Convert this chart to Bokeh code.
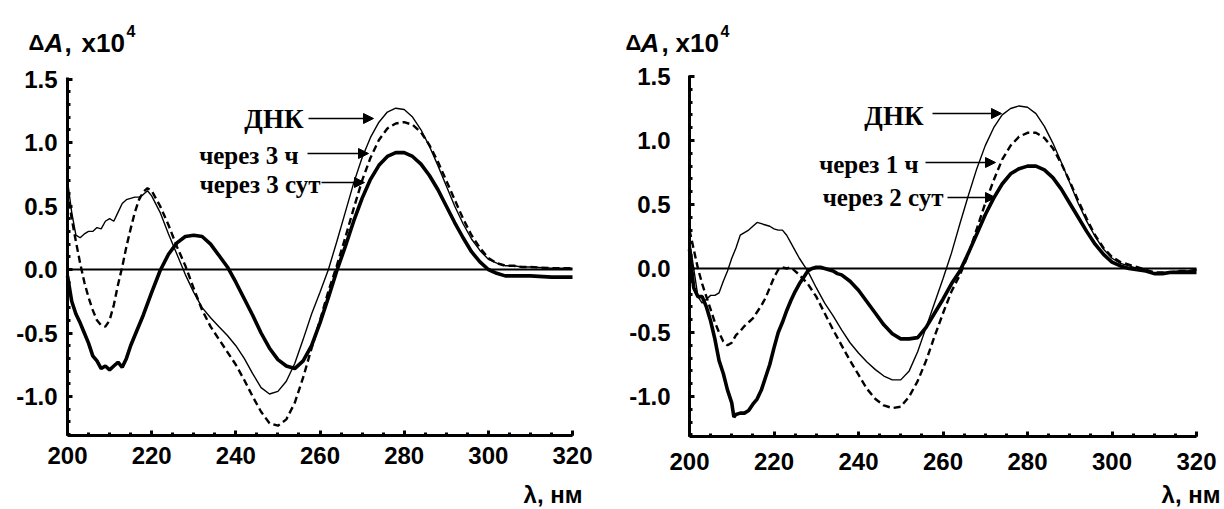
from bokeh.plotting import figure
from bokeh.layouts import row
from bokeh.models import (Range1d, SingleIntervalTicker, PrintfTickFormatter,
                          Arrow, NormalHead, Label)
from bokeh.embed import file_html
from bokeh.resources import INLINE

# ---------------- data (left panel) ----------------
L_dna_x = [200, 201, 202, 203, 204, 205, 206, 207, 208, 209, 210, 211, 212, 213, 214, 215, 216, 217, 218, 219,
           220, 222, 224, 226, 228, 230, 232, 234, 236, 238, 240, 242, 244, 246, 248, 250, 252, 254, 256, 258,
           260, 262, 264, 266, 268, 270, 272, 274, 276, 278, 280, 282, 284, 286, 288, 290, 292, 294, 296, 298,
           300, 302, 304, 306, 308, 310, 315, 320]
L_dna_y = [0.70, 0.45, 0.27, 0.25, 0.28, 0.30, 0.30, 0.33, 0.32, 0.38, 0.40, 0.38, 0.45, 0.52, 0.55, 0.56, 0.57, 0.57, 0.59, 0.62,
           0.58, 0.45, 0.28, 0.12, -0.04, -0.18, -0.30, -0.38, -0.45, -0.52, -0.60, -0.70, -0.82, -0.93, -0.98, -0.96, -0.88, -0.74, -0.55, -0.35,
           -0.18, 0.00, 0.22, 0.45, 0.68, 0.88, 1.04, 1.16, 1.24, 1.27, 1.26, 1.20, 1.10, 0.97, 0.82, 0.66, 0.50, 0.36, 0.24, 0.15,
           0.08, 0.05, 0.03, 0.03, 0.02, 0.02, 0.01, 0.01]

L_3h_x = [200, 201, 202, 203, 204, 205, 206, 207, 208, 209, 210, 211, 212, 213, 214, 215, 216, 217, 218, 219,
          220, 222, 224, 226, 228, 230, 232, 234, 236, 238, 240, 242, 244, 246, 248, 250, 252, 254, 256, 258,
          260, 262, 264, 266, 268, 270, 272, 274, 276, 278, 280, 282, 284, 286, 288, 290, 292, 294, 296, 298,
          300, 302, 304, 306, 308, 310, 315, 320]
L_3h_y = [0.62, 0.40, 0.22, 0.05, -0.10, -0.22, -0.32, -0.40, -0.44, -0.45, -0.40, -0.28, -0.12, 0.02, 0.18, 0.32, 0.45, 0.55, 0.61, 0.64,
          0.62, 0.50, 0.35, 0.18, 0.03, -0.15, -0.32, -0.45, -0.55, -0.65, -0.75, -0.87, -1.00, -1.12, -1.21, -1.23, -1.18, -1.05, -0.85, -0.62,
          -0.40, -0.17, 0.03, 0.25, 0.48, 0.70, 0.88, 1.02, 1.11, 1.15, 1.16, 1.14, 1.08, 0.98, 0.85, 0.70, 0.55, 0.40, 0.27, 0.17,
          0.09, 0.05, 0.03, 0.03, 0.02, 0.02, 0.01, 0.01]

L_3d_x = [200, 201, 202, 203, 204, 205, 206, 207, 208, 209, 210, 211, 212, 213, 214, 215, 216, 218, 220, 222,
          224, 226, 228, 230, 232, 234, 236, 238, 240, 242, 244, 246, 248, 250, 252, 254, 256, 258, 260, 262,
          264, 266, 268, 270, 272, 274, 276, 278, 280, 282, 284, 286, 288, 290, 292, 294, 296, 298, 300, 302,
          304, 306, 310, 315, 320]
L_3d_y = [-0.05, -0.25, -0.35, -0.42, -0.50, -0.58, -0.68, -0.72, -0.78, -0.76, -0.79, -0.76, -0.73, -0.77, -0.70, -0.60, -0.52, -0.36, -0.18, -0.01,
          0.12, 0.21, 0.26, 0.27, 0.26, 0.20, 0.11, 0.02, -0.10, -0.23, -0.36, -0.50, -0.62, -0.71, -0.76, -0.78, -0.72, -0.60, -0.42, -0.22,
          -0.01, 0.18, 0.38, 0.56, 0.71, 0.82, 0.89, 0.92, 0.92, 0.89, 0.83, 0.74, 0.63, 0.50, 0.37, 0.25, 0.14, 0.06, 0.00, -0.03,
          -0.05, -0.05, -0.05, -0.06, -0.06]

# ---------------- data (right panel) ----------------
R_dna_x = [200, 201, 202, 203, 204, 205, 206, 207, 208, 209, 210, 211, 212, 213, 214, 215, 216, 217, 218, 219,
           220, 221, 222, 223, 224, 225, 226, 228, 230, 232, 234, 236, 238, 240, 242, 244, 246, 248, 250, 252,
           254, 256, 258, 260, 262, 264, 266, 268, 270, 272, 274, 276, 278, 280, 282, 284, 286, 288, 290, 292,
           294, 296, 298, 300, 302, 304, 306, 308, 310, 312, 314, 316, 318, 320]
R_dna_y = [0.22, 0.00, -0.22, -0.27, -0.24, -0.21, -0.21, -0.19, -0.10, -0.02, 0.08, 0.16, 0.26, 0.28, 0.30, 0.33, 0.36, 0.35, 0.34, 0.33,
           0.31, 0.30, 0.30, 0.26, 0.20, 0.14, 0.08, -0.02, -0.15, -0.27, -0.37, -0.48, -0.58, -0.66, -0.73, -0.79, -0.84, -0.87, -0.87, -0.80,
           -0.65, -0.46, -0.27, -0.08, 0.12, 0.35, 0.57, 0.78, 0.96, 1.10, 1.20, 1.25, 1.27, 1.26, 1.21, 1.11, 0.98, 0.83, 0.67, 0.51,
           0.37, 0.25, 0.15, 0.08, 0.04, 0.02, 0.00, -0.02, -0.04, -0.04, -0.03, -0.02, -0.02, -0.01]

R_1h_x = [200, 201, 202, 203, 204, 205, 206, 207, 208, 209, 210, 211, 212, 213, 214, 215, 216, 217, 218, 219,
          220, 221, 222, 223, 224, 225, 226, 228, 230, 232, 234, 236, 238, 240, 242, 244, 246, 248, 250, 252,
          254, 256, 258, 260, 262, 264, 266, 268, 270, 272, 274, 276, 278, 280, 282, 284, 286, 288, 290, 292,
          294, 296, 298, 300, 302, 304, 306, 308, 310, 312, 314, 316, 318, 320]
R_1h_y = [0.30, 0.15, 0.00, -0.12, -0.22, -0.32, -0.42, -0.50, -0.57, -0.60, -0.58, -0.52, -0.49, -0.45, -0.42, -0.39, -0.34, -0.29, -0.23, -0.15,
          -0.07, -0.01, 0.01, 0.00, 0.01, -0.02, -0.05, -0.12, -0.22, -0.35, -0.48, -0.60, -0.72, -0.83, -0.94, -1.02, -1.07, -1.09, -1.08, -1.00,
          -0.88, -0.72, -0.53, -0.35, -0.18, -0.05, 0.11, 0.31, 0.51, 0.69, 0.85, 0.96, 1.03, 1.06, 1.06, 1.02, 0.94, 0.82, 0.68, 0.53,
          0.39, 0.26, 0.16, 0.09, 0.05, 0.03, 0.01, -0.01, -0.03, -0.03, -0.03, -0.02, -0.02, -0.01]

R_2d_x = [200, 201, 202, 203, 204, 205, 206, 207, 208, 209, 210, 210.5, 211, 212, 213, 214, 215, 216, 217, 218,
          219, 220, 221, 222, 223, 224, 225, 226, 227, 228, 229, 230, 231, 232, 233, 234, 235, 236, 238, 240,
          242, 244, 246, 248, 250, 252, 254, 256, 258, 260, 262, 264, 266, 268, 270, 272, 274, 276, 278, 280,
          282, 284, 286, 288, 290, 292, 294, 296, 298, 300, 302, 304, 306, 308, 310, 312, 314, 316, 318, 320]
R_2d_y = [0.15, -0.15, -0.22, -0.22, -0.30, -0.41, -0.55, -0.72, -0.82, -0.95, -1.05, -1.16, -1.14, -1.13, -1.13, -1.11, -1.06, -1.02, -0.95, -0.85,
          -0.75, -0.62, -0.50, -0.42, -0.33, -0.25, -0.18, -0.12, -0.07, -0.02, 0.00, 0.01, 0.01, 0.00, -0.01, -0.02, -0.04, -0.05, -0.10, -0.17,
          -0.26, -0.35, -0.44, -0.51, -0.55, -0.55, -0.54, -0.46, -0.35, -0.24, -0.12, -0.02, 0.12, 0.27, 0.42, 0.55, 0.66, 0.74, 0.78, 0.80,
          0.80, 0.77, 0.71, 0.62, 0.51, 0.40, 0.29, 0.19, 0.11, 0.05, 0.02, 0.00, -0.01, -0.02, -0.04, -0.04, -0.03, -0.03, -0.03, -0.03]

# axis extents and ticks
x_limits = [200, 320]
y_limits = [-1.31, 1.51]
zero_level = [0, 0]

# ---------------- text ----------------
y_title = ["Δ", "A", ",", "x10", "4"]
x_title = "λ, нм"
left_labels = ["ДНК", "через 3 ч", "через 3 сут"]
right_labels = ["ДНК", "через 1 ч", "через 2 сут"]

SANS = "Liberation Sans"
SERIF = "Liberation Serif"
W, H = 612, 507


def make_panel(x0px, ppx, y0px, ppy, standoff_y, standoff_x,
               curves, labels, label_px, arrow_px, title_px, title_base, xlab_px):
    # x0px: pixel of 200 nm, ppx: px per nm; y0px: pixel of 0, ppy: px per unit
    fx = lambda px: 200 + (px - x0px) / ppx
    fy = lambda py: (y0px - py) / ppy
    p = figure(width=W, height=H, x_range=Range1d(fx(0), fx(W)), y_range=Range1d(fy(H), fy(0)),
               output_backend="svg", toolbar_location=None,
               min_border_left=0, min_border_right=0, min_border_top=0, min_border_bottom=0)
    p.outline_line_color = None
    p.grid.visible = False
    p.background_fill_color = "white"
    p.border_fill_color = "white"

    p.xaxis.ticker = SingleIntervalTicker(interval=20, num_minor_ticks=4)
    p.yaxis.ticker = SingleIntervalTicker(interval=0.5, num_minor_ticks=5)
    p.yaxis.formatter = PrintfTickFormatter(format="%.1f")
    p.xaxis.fixed_location = y_limits[0]
    p.yaxis.fixed_location = x_limits[0]
    p.xaxis.bounds = tuple(x_limits)
    p.yaxis.bounds = tuple(y_limits)
    for ax in (p.xaxis, p.yaxis):
        ax.axis_line_width = 3
        ax.axis_line_color = "black"
        ax.major_tick_in = 5
        ax.major_tick_out = 0
        ax.minor_tick_in = 3
        ax.minor_tick_out = 0
        ax.major_tick_line_width = 3
        ax.minor_tick_line_width = 3
        ax.major_label_text_font = SANS
        ax.major_label_text_font_style = "bold"
        ax.major_label_text_font_size = "24px"
        ax.major_label_text_color = "black"
    p.yaxis.major_label_standoff = standoff_y
    p.xaxis.major_label_standoff = standoff_x

    p.line(x_limits, zero_level, line_color="black", line_width=2)

    (dx, dy), (hx, hy), (tx, ty) = curves
    p.line(dx, dy, line_color="black", line_width=1.4)
    p.line(hx, hy, line_color="black", line_width=2.4, line_dash="7 4")
    p.line(tx, ty, line_color="black", line_width=3.6)

    sizes = ["27px", "25px", "25px"]
    for txt, (lx, ly), sz in zip(labels, label_px, sizes):
        p.add_layout(Label(x=fx(lx), y=fy(ly), text=txt, text_font=SERIF, text_font_style="bold",
                           text_font_size=sz, text_align="right", text_baseline="middle",
                           text_color="black"))
    for (xa, xb, yy) in arrow_px:
        p.add_layout(Arrow(end=NormalHead(size=10, fill_color="black", line_color="black"),
                           x_start=fx(xa), y_start=fy(yy), x_end=fx(xb), y_end=fy(yy),
                           line_color="black", line_width=1.6))

    styles = ["bold", "bold italic", "bold", "bold", "bold"]
    tsizes = ["22px", "26px", "26px", "26px", "16px"]
    for txt, xx, st, sz, yy in zip(y_title, title_px, styles, tsizes, title_base):
        p.add_layout(Label(x=fx(xx), y=fy(yy), text=txt, text_font=SANS, text_font_style=st,
                           text_font_size=sz, text_align="left", text_baseline="alphabetic",
                           text_color="black"))
    p.add_layout(Label(x=fx(xlab_px[0]), y=fy(xlab_px[1]), text=x_title, text_font=SANS,
                       text_font_style="bold", text_font_size="24px", text_align="right",
                       text_baseline="alphabetic", text_color="black"))
    return p


left = make_panel(
    67, 505 / 120, 269, 127, 10, 11,
    ((L_dna_x, L_dna_y), (L_3h_x, L_3h_y), (L_3d_x, L_3d_y)),
    left_labels,
    [(303, 118), (298, 155), (320, 184)],
    [(308, 373, 118), (307, 368, 153), (321, 364, 182)],
    [28, 44, 64, 81, 126], [42, 42, 42, 42, 30],
    (582, 494))

right = make_panel(
    77, 507 / 120, 268, 128, 19, 17,
    ((R_dna_x, R_dna_y), (R_1h_x, R_1h_y), (R_2d_x, R_2d_y)),
    right_labels,
    [(311, 115), (306, 164), (331, 197)],
    [(320, 389, 113), (313, 383, 162), (335, 383, 197)],
    [13, 28, 49, 63, 108], [42, 42, 42, 42, 30],
    (608, 494))

layout = row(left, right, spacing=0)
open("out.html", "w").write(file_html(layout, INLINE))
